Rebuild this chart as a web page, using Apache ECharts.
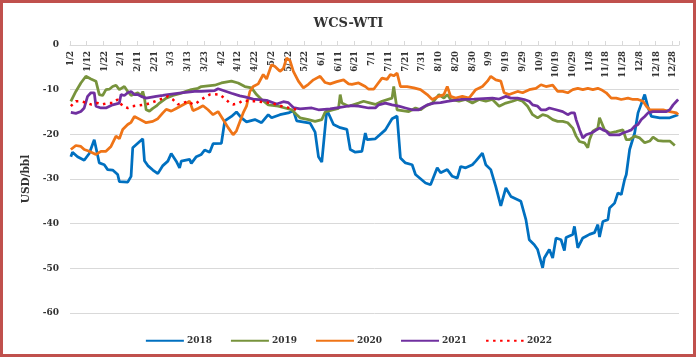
<!DOCTYPE html>
<html>
<head>
<meta charset="utf-8">
<script src="https://cdn.jsdelivr.net/npm/echarts@6/dist/echarts.min.js"></script>
<style>
html,body{margin:0;padding:0;background:#fff;}
#wrap{position:relative;width:697px;height:358px;}
#chart{position:absolute;left:0;top:0;width:697px;height:358px;}
#frame{position:absolute;left:0;top:0;width:696px;height:357px;box-sizing:border-box;border:3px solid #c0504d;pointer-events:none;}
</style>
</head>
<body>
<div id="wrap"><div id="chart"></div><div id="frame"></div></div>
<script>
// Day offsets are counted from 1/2 (index 0) on a daily category axis.
const monthLengths = [31,28,31,30,31,30,31,31,30,31,30,31];
const categories = [];
for (let m = 0; m < 12; m++) {
  for (let d = 1; d <= monthLengths[m]; d++) {
    if (m === 0 && d === 1) continue;
    categories.push((m + 1) + '/' + d);
  }
}
const yTicks = { min: -60, max: 0, interval: 10 };
const seriesNames = ['2018', '2019', '2020', '2021', '2022'];

const s2018 = [[0,-25.0],[1,-24.0],[4,-25.0],[8,-25.8],[11,-24.3],[14,-21.2],[17,-26.4],[20,-26.8],[22,-27.9],[25,-28.0],[28,-29.0],[29,-30.6],[34,-30.7],[36,-29.4],[37,-23.0],[43,-21.0],[44,-25.9],[46,-27.0],[49,-28.0],[52,-28.8],[55,-27.0],[58,-26.0],[60,-24.3],[63,-26.0],[65,-27.5],[66,-26.0],[71,-25.6],[72,-26.5],[75,-25.0],[78,-24.5],[80,-23.5],[83,-24.0],[85,-22.1],[90,-22.0],[92,-17.0],[96,-16.0],[99,-15.0],[102,-16.3],[105,-17.2],[110,-16.7],[114,-17.4],[118,-15.6],[120,-16.3],[125,-15.6],[130,-15.2],[133,-14.7],[135,-17.0],[143,-17.5],[146,-19.5],[148,-25.0],[150,-26.2],[153,-14.5],[157,-17.8],[161,-18.5],[165,-18.9],[167,-23.4],[170,-24.0],[174,-23.8],[176,-19.7],[177,-21.2],[182,-21.0],[188,-19.0],[192,-16.5],[195,-15.9],[197,-25.3],[200,-26.4],[204,-26.8],[206,-29.0],[212,-30.9],[215,-31.3],[219,-27.5],[221,-28.6],[225,-27.9],[228,-29.4],[231,-29.8],[233,-27.2],[236,-27.5],[240,-26.8],[242,-26.0],[246,-24.2],[248,-26.8],[251,-27.9],[254,-31.7],[257,-36.0],[260,-32.0],[263,-33.9],[269,-35.0],[272,-39.1],[274,-43.6],[277,-44.7],[279,-45.8],[282,-49.9],[283,-47.7],[286,-45.8],[288,-47.7],[290,-43.2],[293,-43.6],[295,-46.0],[296,-43.1],[300,-42.4],[301,-40.6],[303,-45.4],[306,-43.2],[308,-42.8],[310,-42.4],[313,-42.0],[315,-40.2],[316,-43.0],[318,-39.5],[321,-39.1],[322,-36.5],[325,-35.4],[327,-33.1],[329,-33.5],[331,-30.1],[332,-29.0],[334,-23.4],[337,-19.7],[339,-15.2],[343,-11.1],[345,-14.0],[347,-16.0],[352,-16.3],[358,-16.3],[363,-15.6]];

const s2019 = [[0,-12.6],[3,-10.4],[6,-8.5],[9,-7.0],[12,-7.6],[15,-8.1],[17,-11.1],[19,-11.3],[21,-10.0],[23,-9.9],[25,-9.3],[27,-9.0],[29,-10.0],[32,-9.3],[34,-10.4],[36,-11.3],[40,-10.7],[42,-11.3],[43,-10.4],[44,-11.9],[45,-14.5],[47,-14.8],[49,-14.2],[51,-13.7],[53,-13.0],[57,-11.9],[61,-11.3],[65,-10.9],[68,-10.5],[72,-10.0],[76,-9.7],[78,-9.3],[86,-9.0],[90,-8.5],[96,-8.1],[100,-8.5],[104,-9.3],[108,-9.6],[111,-11.1],[114,-12.2],[118,-13.4],[124,-13.7],[128,-14.1],[132,-14.5],[135,-15.6],[137,-16.3],[142,-16.7],[146,-17.1],[150,-16.7],[152,-15.0],[157,-14.5],[160,-14.2],[161,-11.1],[162,-13.0],[166,-13.7],[172,-13.0],[175,-12.6],[178,-12.9],[182,-13.3],[186,-12.6],[192,-11.9],[193,-9.3],[194,-9.5],[195,-14.5],[196,-14.9],[202,-14.9],[206,-14.1],[209,-14.5],[212,-13.7],[216,-13.0],[220,-11.1],[223,-11.9],[225,-11.1],[227,-12.2],[232,-12.6],[236,-12.2],[240,-13.0],[244,-12.2],[248,-12.6],[252,-12.2],[256,-13.7],[260,-13.0],[264,-12.6],[267,-12.2],[270,-12.6],[273,-13.7],[276,-15.6],[279,-16.3],[282,-15.6],[285,-15.9],[288,-16.7],[291,-17.1],[294,-17.1],[297,-17.4],[300,-18.6],[302,-20.4],[304,-21.6],[307,-21.9],[309,-23.0],[310,-21.2],[312,-19.3],[315,-18.6],[316,-16.3],[319,-19.0],[322,-19.7],[326,-19.4],[330,-19.0],[332,-21.2],[334,-21.2],[337,-20.4],[340,-20.8],[343,-21.9],[346,-21.5],[348,-20.6],[351,-21.4],[354,-21.5],[358,-21.5],[361,-22.5]];

const s2020 = [[0,-23.4],[3,-22.5],[6,-22.7],[8,-23.4],[11,-23.8],[15,-24.5],[18,-23.8],[21,-23.8],[24,-22.7],[27,-20.4],[29,-21.0],[31,-18.9],[34,-17.8],[36,-17.3],[38,-16.0],[41,-16.6],[45,-17.4],[49,-17.1],[52,-16.5],[55,-15.2],[57,-14.4],[60,-14.8],[63,-14.2],[66,-13.6],[71,-12.6],[73,-14.7],[76,-14.2],[79,-13.6],[82,-14.5],[85,-15.6],[88,-14.9],[91,-16.7],[94,-18.5],[97,-20.1],[99,-19.2],[100,-19.3],[103,-15.2],[105,-13.7],[107,-10.4],[109,-9.3],[112,-8.7],[115,-6.6],[117,-7.6],[120,-4.4],[122,-4.8],[125,-5.9],[127,-5.3],[129,-2.9],[131,-3.5],[133,-5.9],[136,-8.1],[139,-9.6],[142,-8.8],[145,-7.8],[149,-7.0],[152,-8.4],[155,-8.7],[159,-8.2],[163,-7.8],[166,-8.7],[168,-8.8],[172,-8.5],[176,-9.3],[178,-9.9],[181,-9.9],[183,-8.9],[186,-7.4],[189,-7.7],[191,-6.6],[193,-6.9],[195,-6.3],[197,-9.3],[201,-9.3],[205,-9.6],[209,-10.0],[213,-11.1],[216,-12.2],[220,-11.5],[223,-11.1],[225,-9.3],[226,-9.3],[227,-11.5],[230,-11.9],[234,-11.5],[238,-11.9],[242,-10.0],[246,-9.3],[249,-8.1],[251,-7.0],[254,-7.8],[257,-8.1],[259,-10.7],[262,-11.1],[267,-10.4],[270,-10.7],[274,-10.0],[278,-9.7],[281,-8.9],[284,-9.3],[288,-9.0],[291,-10.4],[294,-10.4],[297,-10.7],[300,-10.0],[303,-9.7],[306,-10.0],[309,-9.7],[312,-10.0],[315,-9.7],[317,-10.0],[320,-10.7],[323,-11.9],[326,-11.9],[329,-12.2],[333,-11.9],[336,-12.2],[339,-12.2],[342,-12.6],[344,-13.7],[346,-14.5],[350,-14.5],[354,-14.5],[358,-14.9],[362,-15.2],[363,-15.6]];

const s2021 = [[0,-15.1],[3,-15.3],[6,-14.9],[8,-14.1],[10,-11.5],[12,-10.7],[14,-10.7],[15,-13.7],[18,-14.1],[21,-14.1],[25,-13.4],[29,-13.0],[30,-11.1],[32,-11.3],[34,-10.7],[36,-10.4],[38,-11.1],[40,-11.1],[42,-11.5],[45,-11.9],[51,-11.5],[55,-11.3],[58,-11.1],[66,-10.7],[74,-10.4],[78,-10.4],[86,-10.2],[88,-9.8],[92,-10.3],[96,-10.8],[101,-11.4],[104,-11.6],[109,-12.1],[117,-12.4],[123,-13.2],[127,-12.7],[130,-12.9],[133,-14.0],[137,-14.3],[144,-14.1],[148,-14.5],[155,-14.3],[160,-14.0],[167,-13.6],[172,-13.7],[178,-14.1],[182,-14.1],[184,-13.4],[188,-13.0],[192,-13.4],[196,-13.7],[200,-14.1],[204,-14.5],[208,-14.5],[213,-13.4],[217,-13.0],[221,-12.9],[225,-12.6],[233,-12.2],[241,-12.1],[252,-11.9],[256,-12.1],[260,-11.5],[263,-11.9],[267,-11.9],[271,-12.2],[274,-12.6],[276,-13.4],[279,-13.7],[281,-14.5],[284,-14.5],[286,-14.1],[290,-14.5],[294,-14.9],[297,-15.6],[299,-15.2],[301,-15.2],[302,-16.7],[304,-18.9],[306,-20.8],[307,-21.2],[308,-20.1],[309,-20.5],[311,-19.7],[313,-19.3],[316,-18.6],[318,-19.0],[320,-19.3],[322,-20.1],[328,-20.1],[330,-19.7],[333,-19.3],[335,-19.0],[337,-18.2],[339,-17.8],[341,-16.7],[343,-16.0],[345,-15.2],[348,-14.9],[356,-14.9],[358,-14.5],[360,-13.4],[362,-12.6],[363,-12.2]];

const s2022 = [[0,-13.7],[3,-12.6],[6,-12.6],[10,-13.0],[12,-13.3],[16,-13.0],[19,-13.3],[22,-13.0],[25,-13.0],[28,-12.2],[31,-13.7],[34,-14.1],[37,-13.7],[41,-13.5],[45,-13.3],[49,-12.8],[53,-12.2],[56,-11.9],[58,-11.5],[61,-12.2],[64,-13.3],[67,-13.0],[70,-12.6],[73,-13.3],[75,-13.0],[78,-12.2],[81,-11.5],[83,-11.1],[86,-11.0],[89,-11.1],[92,-12.0],[95,-13.0],[97,-13.3],[100,-13.1],[103,-12.4],[107,-12.6],[111,-12.6],[115,-12.8],[120,-13.0],[124,-13.5],[127,-13.8],[131,-14.1],[135,-14.5],[137,-14.9]];

const seriesData = [s2018, s2019, s2020, s2021, s2022];
const colors = ['#0070c0', '#77933c', '#ef7417', '#7030a0', '#ff0000'];
const FONT = 'DejaVu Serif';

const chart = echarts.init(document.getElementById('chart'), null, { renderer: 'canvas' });
chart.setOption({
  animation: false,
  backgroundColor: '#ffffff',
  title: {
    text: 'WCS-WTI',
    left: 'center',
    top: 12,
    textStyle: { fontFamily: FONT, fontWeight: 'bold', fontSize: 13, color: '#333' }
  },
  legend: {
    data: seriesNames,
    left: 'center',
    top: 331,
    itemWidth: 38,
    itemHeight: 12,
    itemGap: 18,
    itemStyle: { opacity: 0, borderWidth: 0 },
    textStyle: { fontFamily: FONT, fontWeight: 'bold', fontSize: 9, color: '#333', padding: [0, 0, 0, -2] }
  },
  grid: { left: 70, right: 18, top: 45, bottom: 45, containLabel: false },
  xAxis: {
    type: 'category',
    position: 'top',
    data: categories,
    boundaryGap: true,
    axisLine: { show: true, lineStyle: { color: '#d9d9d9', width: 1 } },
    axisTick: { show: true, interval: 9, length: 4, lineStyle: { color: '#d9d9d9' } },
    axisLabel: {
      interval: 9,
      inside: true,
      rotate: 90,
      margin: 6,
      fontFamily: FONT,
      fontWeight: 'bold',
      fontSize: 8.5,
      color: '#333'
    },
    splitLine: { show: false }
  },
  yAxis: {
    type: 'value',
    min: yTicks.min,
    max: yTicks.max,
    interval: yTicks.interval,
    name: 'USD/bbl',
    nameLocation: 'middle',
    nameGap: 36,
    nameTextStyle: { fontFamily: FONT, fontWeight: 'bold', fontSize: 10.5, color: '#333' },
    axisLine: { show: false },
    axisTick: { show: false },
    axisLabel: { fontFamily: FONT, fontWeight: 'bold', fontSize: 9, color: '#333', margin: 11 },
    splitLine: { show: true, lineStyle: { color: '#d9d9d9', width: 1 } }
  },
  series: seriesNames.map((name, i) => ({
    name: name,
    type: 'line',
    data: seriesData[i],
    symbol: 'none',
    showSymbol: false,
    connectNulls: true,
    color: colors[i],
    lineStyle: i === 4
      ? { color: colors[i], width: 2.5, type: [2.5, 4.5] }
      : { color: colors[i], width: 2.75 },
    z: 2 + i
  }))
});
</script>
</body>
</html>
